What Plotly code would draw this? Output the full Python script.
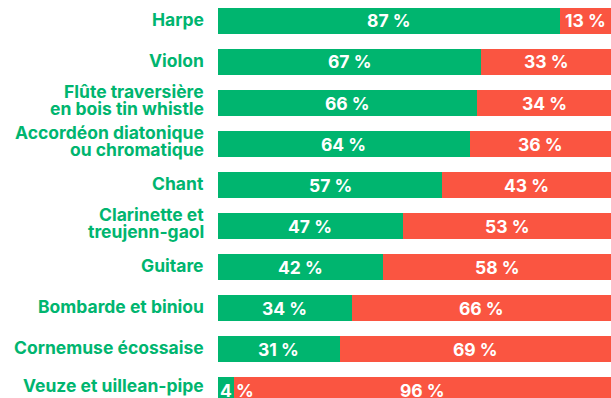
import plotly.graph_objects as go

# Instruments and share split (percent) for each one
instruments = [
    "Harpe",
    "Violon",
    "Flûte traversière\nen bois tin whistle",
    "Accordéon diatonique\nou chromatique",
    "Chant",
    "Clarinette et\ntreujenn-gaol",
    "Guitare",
    "Bombarde et biniou",
    "Cornemuse écossaise",
    "Veuze et uillean-pipe",
]
share_green = [87, 67, 66, 64, 57, 47, 42, 34, 31, 4]
share_red = [13, 33, 34, 36, 43, 53, 58, 66, 69, 96]

GREEN = "#00b56f"
RED = "#fa5541"
FONT = "Inter"

positions = list(range(len(instruments)))

fig = go.Figure()
fig.add_trace(go.Bar(
    y=positions, x=share_green, orientation="h",
    marker=dict(color=GREEN, line=dict(width=0)),
    width=0.634, hoverinfo="skip",
))
fig.add_trace(go.Bar(
    y=positions, x=share_red, base=share_green, orientation="h",
    marker=dict(color=RED, line=dict(width=0)),
    width=0.634, hoverinfo="skip",
))

annotations = []

# Percentage labels centred in each segment; a very small segment gets a left-anchored label
pct_font = dict(family=FONT, size=17.5, color="white", weight=700)
for i, (g, r) in enumerate(zip(share_green, share_red)):
    if g >= 8:
        annotations.append(dict(x=g / 2, y=i, text=f"{g} %", showarrow=False,
                                xref="x", yref="y", font=pct_font))
    else:
        annotations.append(dict(x=0, y=i, text=f"{g} %", showarrow=False,
                                xref="x", yref="y", xanchor="left",
                                font=pct_font))
    annotations.append(dict(x=g + r / 2, y=i, text=f"{r} %", showarrow=False,
                            xref="x", yref="y", font=pct_font))

# Instrument names to the left of the bars, one annotation per line for tight leading
name_font = dict(family=FONT, size=17.5, color=GREEN, weight=700)
for i, name in enumerate(instruments):
    lines = name.split("\n")
    if len(lines) == 1:
        shifts = [5 if i == len(instruments) - 1 else 1.5]
    else:
        shifts = [11.5, -5.5]
    for line, ys in zip(lines, shifts):
        annotations.append(dict(x=0, y=i, text=line, showarrow=False,
                                xref="x", yref="y", xanchor="right",
                                xshift=-12, yshift=ys, font=name_font))

fig.update_layout(
    barmode="stack",
    width=611, height=398,
    margin=dict(l=218, r=0, t=0, b=0),
    paper_bgcolor="white", plot_bgcolor="white",
    showlegend=False,
    bargap=0,
    annotations=annotations,
    xaxis=dict(range=[0, 100], visible=False, fixedrange=True),
    yaxis=dict(
        range=[9.195, -0.512],
        visible=False,
        fixedrange=True,
    ),
)

fig.write_html("out.html")
